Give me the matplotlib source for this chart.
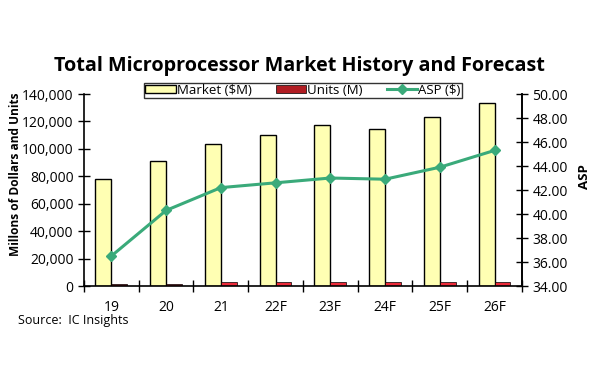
import matplotlib.pyplot as plt
from matplotlib.ticker import FuncFormatter

plt.rcParams["font.family"] = ["Open Sans", "DejaVu Sans"]

# data
years = ["19", "20", "21", "22F", "23F", "24F", "25F", "26F"]
market = [78000, 91000, 103500, 110000, 117500, 114500, 123000, 133500]
units = [1700, 1700, 3000, 3000, 3000, 3000, 3000, 3000]
asp = [36.5, 40.3, 42.2, 42.6, 43.0, 42.9, 43.9, 45.3]

unit_colors = ["#b01c22", "#b01c22"] + ["#ee2b3a"] * 6

fig = plt.figure(figsize=(6.05, 3.75), dpi=100)
ax = fig.add_axes([0.1388, 0.2373, 0.724, 0.512])
ax2 = ax.twinx()

x = list(range(len(years)))
w = 0.29
ax.bar([i - w / 2 for i in x], market, width=w, color="#ffffb3",
       edgecolor="black", linewidth=1.0, label="Market ($M)", zorder=2)
ax.bar([i + w / 2 for i in x], units, width=w, color=unit_colors,
       edgecolor="black", linewidth=0.5, label="Units (M)", zorder=2)
ax2.plot(x, asp, color="#3aaa7a", linewidth=2.2, marker="D", markersize=5,
         label="ASP ($)", zorder=3)

ax.set_xlim(-0.5, len(years) - 0.5)
ax.set_ylim(0, 140000)
ax.set_yticks(range(0, 140001, 20000))
ax.yaxis.set_major_formatter(FuncFormatter(lambda v, p: f"{int(v):,}"))
ax2.set_ylim(34, 50)
ax2.set_yticks([34 + 2 * k for k in range(9)])
ax2.yaxis.set_major_formatter(FuncFormatter(lambda v, p: f"{v:.2f}"))

ax.set_xticks(x)
ax.set_xticklabels(years)
ax.set_xticks([i + 0.5 for i in range(-1, len(years))], minor=True)
ax.tick_params(axis="x", which="major", length=0, labelsize=10, pad=10)
ax.tick_params(axis="x", which="minor", direction="inout", length=8, width=1)
ax.tick_params(axis="y", direction="inout", length=8, width=1, labelsize=10)
ax2.tick_params(axis="y", direction="inout", length=8, width=1, labelsize=10)

for a in (ax, ax2):
    a.spines["top"].set_visible(False)
    for s in a.spines.values():
        s.set_linewidth(1.2)
ax2.spines["left"].set_visible(False)
ax2.spines["bottom"].set_visible(False)

ax.set_ylabel("Millons of Dollars and Units", fontsize=8.6, fontweight="bold")
ax.yaxis.set_label_coords(-0.142, 0.58)
ax2.set_ylabel("ASP", fontsize=9.5, fontweight="bold")
ax2.yaxis.set_label_coords(1.128, 0.57)

fig.text(0.495, 0.81, "Total Microprocessor Market History and Forecast",
         ha="center", fontsize=14.2, fontweight="bold")
fig.text(0.03, 0.135, "Source:  IC Insights", fontsize=9)

h1, l1 = ax.get_legend_handles_labels()
h2, l2 = ax2.get_legend_handles_labels()
leg = ax.legend(h1 + h2, l1 + l2, loc="lower center", bbox_to_anchor=(0.5, 0.978),
                borderaxespad=0, ncol=3, fontsize=9.5, frameon=True, fancybox=False,
                edgecolor="black", borderpad=0.1, handlelength=2.3, handleheight=0.6,
                handletextpad=0.1, columnspacing=1.8)
leg.get_frame().set_linewidth(1.0)

fig.savefig("out.png", dpi=100)
